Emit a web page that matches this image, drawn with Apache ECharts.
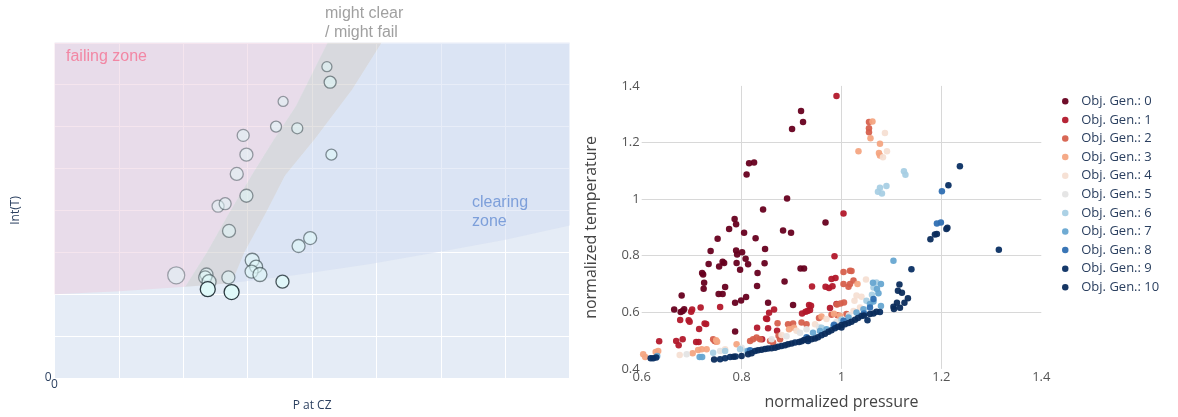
<!DOCTYPE html>
<html>
<head>
<meta charset="utf-8">
<script src="https://cdn.jsdelivr.net/npm/echarts@6/dist/echarts.min.js"></script>
<style>
  html, body { margin: 0; padding: 0; background: #ffffff; }
  #chart { width: 1178px; height: 417px; }
</style>
</head>
<body>
<div id="chart"></div>
<script>
// ---------- Left panel: clearance map (P at CZ vs Int(T)) ----------
// zone outlines in axis units
const failingZone = [[0, 2.0], [1, 2.07], [2.03, 2.18], [2.37, 3.01], [2.72, 3.96], [3.06, 4.83],
  [3.41, 5.70], [3.75, 6.49], [4.24, 8], [0, 8]];
const uncertainBand = [[2.03, 2.18], [2.37, 3.01], [2.72, 3.96], [3.06, 4.83], [3.41, 5.70],
  [3.75, 6.49], [4.24, 8], [5.08, 8], [4.62, 6.88], [4.04, 5.70], [3.58, 4.83], [3.29, 3.96],
  [2.95, 3.0], [2.75, 2.27], [2.4, 2.22]];
const clearingZone = [[2.75, 2.27], [2.95, 3.0], [3.29, 3.96], [3.58, 4.83], [4.04, 5.70],
  [4.62, 6.88], [5.08, 8], [8, 8], [8, 3.64], [7, 3.3], [6.05, 3.03], [4.9, 2.72], [3.75, 2.46]];

// cases: [P, Int(T), bubble diameter, confidence]
const cases = [
  [4.23, 7.43, 10, 0.5], [4.28, 7.06, 12, 0.55], [3.55, 6.60, 10, 0.45], [3.44, 6.00, 11, 0.5],
  [3.77, 5.96, 11, 0.5], [2.93, 5.79, 12, 0.45], [2.98, 5.33, 13, 0.45], [4.30, 5.33, 11, 0.55],
  [2.83, 4.87, 13, 0.45], [2.98, 4.35, 13, 0.5], [2.54, 4.10, 12, 0.4], [2.65, 4.16, 12, 0.45],
  [2.71, 3.51, 13, 0.5], [3.97, 3.34, 13, 0.55], [3.79, 3.15, 13, 0.55], [3.07, 2.81, 14, 0.6],
  [3.13, 2.66, 13, 0.6], [3.06, 2.54, 13, 0.55], [3.19, 2.47, 14, 0.6], [1.89, 2.45, 17, 0.4],
  [2.36, 2.47, 13, 0.5], [2.34, 2.40, 13, 0.5], [2.40, 2.30, 14, 0.55], [2.70, 2.40, 13, 0.5],
  [2.38, 2.12, 15, 1.0], [2.75, 2.05, 15, 1.0], [3.54, 2.30, 13, 0.85]
];

// ---------- Right panel: normalized pressure vs temperature per generation ----------
const genNames = ['Obj. Gen.: 0', 'Obj. Gen.: 1', 'Obj. Gen.: 2', 'Obj. Gen.: 3', 'Obj. Gen.: 4',
  'Obj. Gen.: 5', 'Obj. Gen.: 6', 'Obj. Gen.: 7', 'Obj. Gen.: 8', 'Obj. Gen.: 9', 'Obj. Gen.: 10'];

const gen0 = [[0.919, 1.311], [0.923, 1.272], [0.901, 1.248], [0.815, 1.127], [0.825, 1.129], [0.810, 1.087],
  [0.891, 1.002], [0.843, 0.963], [0.786, 0.930], [0.789, 0.911], [0.775, 0.894], [0.805, 0.881],
  [0.883, 0.889], [0.899, 0.881], [0.968, 0.917], [0.752, 0.860], [0.828, 0.862], [0.738, 0.817],
  [0.789, 0.818], [0.791, 0.804], [0.801, 0.812], [0.847, 0.824], [0.808, 0.789], [0.762, 0.779],
  [0.765, 0.774], [0.734, 0.771], [0.790, 0.774], [0.813, 0.770], [0.846, 0.773], [0.755, 0.762],
  [0.797, 0.750], [0.721, 0.739], [0.723, 0.734], [0.832, 0.739], [0.725, 0.704], [0.724, 0.683],
  [0.831, 0.693], [0.886, 0.709], [0.767, 0.689], [0.754, 0.665], [0.762, 0.665], [0.680, 0.659],
  [0.809, 0.654], [0.799, 0.642], [0.787, 0.634], [0.853, 0.634], [0.903, 0.626], [0.665, 0.610],
  [0.682, 0.605], [0.678, 0.601], [0.685, 0.611], [0.787, 0.532], [0.918, 0.755], [0.925, 0.755]];
const gen1 = [[0.990, 1.364], [1.004, 0.949], [0.986, 0.798], [0.988, 0.721], [0.980, 0.718], [0.968, 0.690],
  [0.975, 0.686], [0.982, 0.692], [0.941, 0.691], [0.937, 0.608], [0.928, 0.602], [0.939, 0.623],
  [0.921, 0.596], [0.977, 0.615], [0.990, 0.629], [0.865, 0.610], [0.855, 0.598], [0.851, 0.576],
  [0.849, 0.578], [0.831, 0.545], [0.853, 0.544], [0.841, 0.505], [0.871, 0.535], [0.701, 0.610],
  [0.699, 0.602], [0.677, 0.573], [0.694, 0.572], [0.696, 0.567], [0.718, 0.617], [0.757, 0.619],
  [0.729, 0.559], [0.726, 0.560], [0.715, 0.541], [0.635, 0.498], [0.669, 0.499], [0.674, 0.484],
  [0.682, 0.505], [0.709, 0.495], [0.714, 0.495], [0.932, 0.605], [0.935, 0.626]];
const gen2 = [[1.055, 1.272], [1.055, 1.250], [1.055, 1.236], [1.004, 0.742], [1.017, 0.747], [1.020, 0.746],
  [1.004, 0.700], [1.014, 0.690], [1.017, 0.700], [1.024, 0.712], [1.005, 0.635], [0.998, 0.631],
  [0.991, 0.628], [0.980, 0.591], [0.992, 0.590], [1.010, 0.594], [0.746, 0.499], [0.749, 0.497],
  [0.743, 0.505], [0.817, 0.499], [0.823, 0.505], [0.830, 0.511], [0.837, 0.505], [0.857, 0.499],
  [0.863, 0.493], [0.877, 0.505], [0.874, 0.517], [0.893, 0.558], [0.903, 0.560], [0.920, 0.564],
  [0.930, 0.558], [0.955, 0.580], [0.872, 0.561]];
const gen3 = [[1.062, 1.274], [1.058, 1.215], [1.077, 1.196], [1.034, 1.169], [1.075, 1.163], [1.077, 1.154],
  [0.603, 0.452], [0.607, 0.442], [0.628, 0.460], [0.633, 0.463], [0.702, 0.455], [0.713, 0.467],
  [0.720, 0.469], [0.730, 0.469], [0.749, 0.501], [0.751, 0.496], [0.790, 0.487], [0.997, 0.588],
  [1.032, 0.700], [0.960, 0.585], [0.985, 0.595], [0.895, 0.540], [0.905, 0.545]];
const gen4 = [[1.087, 1.234], [1.083, 1.148], [1.091, 1.169], [1.049, 0.716], [1.026, 0.641], [1.040, 0.655],
  [0.676, 0.449], [0.767, 0.469], [0.947, 0.558], [0.970, 0.576], [1.024, 0.605], [1.037, 0.617],
  [1.030, 0.659], [0.880, 0.520], [0.910, 0.535]];
const gen5 = [[0.757, 0.463], [0.917, 0.528], [0.930, 0.540], [0.860, 0.505], [0.890, 0.515], [0.955, 0.548],
  [0.990, 0.566], [1.015, 0.590], [0.800, 0.475], [0.690, 0.452]];
const gen6 = [[1.125, 1.098], [1.128, 1.086], [1.077, 1.040], [1.090, 1.046], [1.073, 1.026], [1.081, 1.020],
  [1.061, 0.662], [1.050, 0.641], [1.064, 0.688], [0.797, 0.469], [0.810, 0.463], [0.743, 0.457],
  [0.767, 0.463], [0.960, 0.545], [1.000, 0.575], [1.070, 0.705]];
const gen7 = [[1.104, 0.782], [1.079, 0.700], [1.063, 0.704], [1.074, 0.667], [1.064, 0.638], [1.079, 0.622],
  [1.071, 0.682], [0.721, 0.442], [0.716, 0.442], [0.813, 0.463], [0.943, 0.528], [0.957, 0.534],
  [0.970, 0.540], [0.984, 0.552], [1.014, 0.582], [1.030, 0.599], [1.044, 0.611], [1.057, 0.629],
  [0.631, 0.446]];
const gen8 = [[1.201, 1.028], [1.191, 0.914], [1.199, 0.917], [0.817, 0.466], [1.004, 0.570], [1.057, 0.617],
  [1.064, 0.647], [0.930, 0.512], [0.985, 0.556], [1.045, 0.596]];
const gen9 = [[1.237, 1.116], [1.214, 1.049], [1.315, 0.821], [1.140, 0.752], [0.618, 0.438], [0.623, 0.438],
  [0.629, 0.440], [0.757, 0.434], [0.767, 0.438], [0.777, 0.442], [0.788, 0.444], [0.827, 0.463],
  [0.853, 0.472], [0.880, 0.481], [0.907, 0.493], [0.933, 0.499], [0.960, 0.519], [0.987, 0.544],
  [1.014, 0.562], [1.040, 0.587], [1.052, 0.572], [1.077, 0.601]];
const gen10 = [[1.210, 0.894], [1.212, 0.899], [1.191, 0.877], [1.187, 0.875], [1.178, 0.858], [1.116, 0.698],
  [1.113, 0.676], [1.121, 0.669], [1.133, 0.650], [1.126, 0.634], [1.111, 0.634], [1.104, 0.620],
  [1.105, 0.612], [1.117, 0.616], [1.070, 0.602], [1.064, 0.596], [1.057, 0.594], [0.784, 0.443],
  [0.813, 0.452], [0.820, 0.455], [0.840, 0.468], [0.847, 0.470], [0.860, 0.473], [0.867, 0.475],
  [0.873, 0.478], [0.893, 0.487], [0.900, 0.490], [0.915, 0.495], [0.920, 0.498], [0.925, 0.502],
  [0.940, 0.505], [0.947, 0.507], [0.953, 0.512], [0.967, 0.524], [0.974, 0.531], [0.980, 0.537],
  [1.000, 0.555], [1.007, 0.558], [1.020, 0.567], [1.027, 0.574], [1.033, 0.580], [1.045, 0.589],
  [0.800, 0.446], [0.833, 0.466], [0.887, 0.484], [0.933, 0.507], [0.993, 0.549], [1.000, 0.546],
  [0.745, 0.433]];
const generations = [gen0, gen1, gen2, gen3, gen4, gen5, gen6, gen7, gen8, gen9, gen10];

// ---------- styling ----------
const genColors = ['#67001f', '#b2182b', '#d6604d', '#f4a582', '#f6dfd3', '#e4e4e4',
  '#a8cfe4', '#67a6d1', '#2f6fb2', '#0a2f63', '#0b2c5c'];
const zoneFills = ['rgba(236,204,222,0.5)', 'rgba(205,202,202,0.55)', 'rgba(210,220,242,0.5)'];
const zones = [failingZone, uncertainBand, clearingZone];
const FONT = '"Open Sans", "DejaVu Sans", sans-serif';
const NOTE_FONT = '16px "Liberation Sans", Arial, sans-serif';
const slate = '#2a3f5f';

const chart = echarts.init(document.getElementById('chart'), null, { renderer: 'canvas' });

const genSeries = generations.map((pts, i) => ({
  type: 'scatter',
  name: genNames[i],
  xAxisIndex: 1,
  yAxisIndex: 1,
  data: pts,
  symbol: 'circle',
  symbolSize: 6.5,
  itemStyle: { color: genColors[i], opacity: 0.95 },
  emphasis: { disabled: true },
  z: 3
}));

chart.setOption({
  animation: false,
  textStyle: { fontFamily: FONT },
  grid: [
    { left: 54.5, top: 42.8, width: 515.2, height: 337.6, show: true,
      backgroundColor: '#E5ECF6', borderWidth: 0 },
    { left: 641.7, top: 85.9, width: 399.6, height: 283 }
  ],
  xAxis: [
    { gridIndex: 0, type: 'value', min: 0, max: 8, interval: 1,
      axisLine: { show: false }, axisTick: { show: false },
      splitLine: { lineStyle: { color: '#ffffff', width: 1 } },
      axisLabel: { formatter: v => (v === 0 ? '0' : ''), color: slate, fontSize: 12, margin: 1 },
      name: 'P at CZ', nameLocation: 'middle', nameGap: 22,
      nameTextStyle: { color: slate, fontSize: 12 } },
    { gridIndex: 1, type: 'value', min: 0.6, max: 1.4, interval: 0.2,
      axisLine: { show: false }, axisTick: { show: false },
      splitLine: { showMinLine: false, showMaxLine: false, lineStyle: { color: '#d8d8d8', width: 1 } },
      axisLabel: { color: '#555', fontSize: 13, margin: 2 },
      name: 'normalized pressure', nameLocation: 'middle', nameGap: 26,
      nameTextStyle: { color: '#444', fontSize: 16 } }
  ],
  yAxis: [
    { gridIndex: 0, type: 'value', min: 0, max: 8, interval: 1,
      axisLine: { show: false }, axisTick: { show: false },
      splitLine: { lineStyle: { color: '#ffffff', width: 1 } },
      axisLabel: { formatter: v => (v === 0 ? '0' : ''), color: slate, fontSize: 12, margin: 3 },
      name: 'Int(T)', nameLocation: 'middle', nameGap: 33,
      nameTextStyle: { color: slate, fontSize: 12 } },
    { gridIndex: 1, type: 'value', min: 0.4, max: 1.4, interval: 0.2,
      axisLine: { show: false }, axisTick: { show: false },
      splitLine: { showMinLine: false, showMaxLine: false, lineStyle: { color: '#d8d8d8', width: 1 } },
      axisLabel: { color: '#555', fontSize: 13, margin: 2 },
      name: 'normalized temperature', nameLocation: 'middle', nameGap: 42,
      nameTextStyle: { color: '#444', fontSize: 16 } }
  ],
  legend: {
    data: genNames,
    orient: 'vertical',
    left: 1057,
    top: 87,
    icon: 'circle',
    itemWidth: 22,
    itemHeight: 6.5,
    itemGap: 0,
    textStyle: { color: slate, fontSize: 13, lineHeight: 18.6, fontFamily: FONT },
    selectedMode: false
  },
  visualMap: [{
    type: 'continuous', show: false, seriesIndex: 1, dimension: 3,
    min: 0, max: 1, inRange: { opacity: [0, 1] }
  }],
  series: [
    {
      type: 'custom',
      name: 'zones',
      xAxisIndex: 0,
      yAxisIndex: 0,
      data: zones.map((z, i) => [i]),
      encode: { x: 0, y: 0 },
      z: 1,
      silent: true,
      renderItem: (params, api) => {
        const outline = zones[params.dataIndex];
        return {
          type: 'polygon',
          shape: { points: outline.map(p => api.coord(p)) },
          style: { fill: zoneFills[params.dataIndex] }
        };
      }
    },
    {
      type: 'scatter',
      name: 'cases',
      xAxisIndex: 0,
      yAxisIndex: 0,
      data: cases,
      symbolSize: v => v[2],
      itemStyle: { color: '#dff9f9', borderColor: '#2b3a40', borderWidth: 1.3 },
      emphasis: { disabled: true },
      z: 3
    },
    ...genSeries
  ],
  graphic: {
    z: 100,
    elements: [
      { type: 'text', left: 66, top: 47, z: 100,
        style: { text: 'failing zone', fill: '#f287a4', font: NOTE_FONT, lineHeight: 19 } },
      { type: 'text', left: 325, top: 4.5, z: 100,
        style: { text: 'might clear\n/ might fail', fill: '#a0a0a0', font: NOTE_FONT, lineHeight: 19 } },
      { type: 'text', left: 472, top: 193.5, z: 100,
        style: { text: 'clearing\nzone', fill: '#7d9fda', font: NOTE_FONT, lineHeight: 19 } }
    ]
  }
});
</script>
</body>
</html>
